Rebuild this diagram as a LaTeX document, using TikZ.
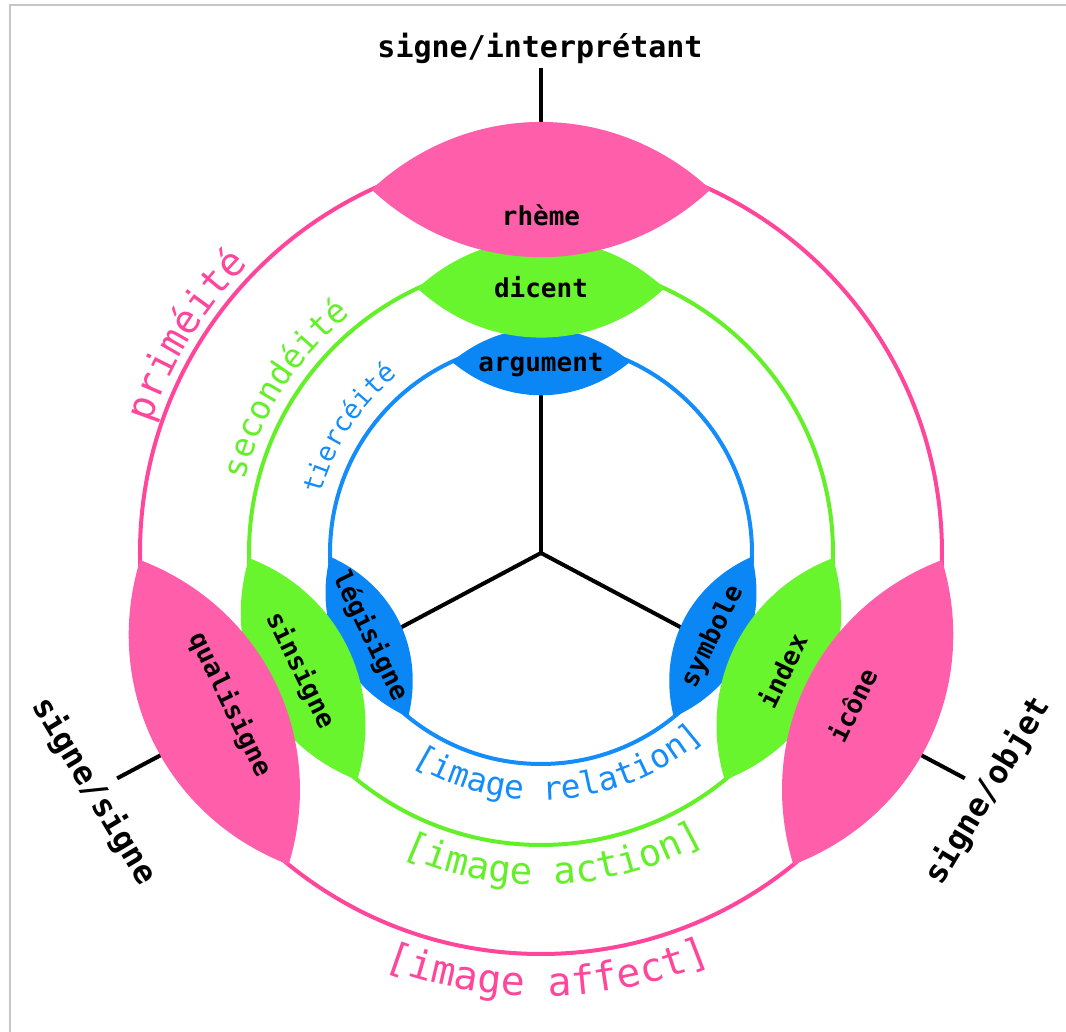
\documentclass[tikz,border=0pt]{standalone}
\usepackage{fontspec}
\usetikzlibrary{decorations.text}
\newfontfamily\monof{DejaVu Sans Mono}
\definecolor{pinkfill}{RGB}{255,94,170}
\definecolor{pinkline}{RGB}{255,70,155}
\definecolor{greenfill}{RGB}{105,245,45}
\definecolor{greenline}{RGB}{100,240,40}
\definecolor{bluefill}{RGB}{10,135,245}
\definecolor{blueline}{RGB}{20,140,250}
\newcommand\fLens{\monof\bfseries\fontsize{13pt}{15pt}\selectfont}
\newcommand\fTop{\monof\bfseries\fontsize{15pt}{17pt}\selectfont}
\newcommand\fSide{\monof\bfseries\fontsize{16pt}{18pt}\selectfont}
\newcommand\fPrim{\monof\fontsize{19.6pt}{22pt}\selectfont}
\newcommand\fSec{\monof\fontsize{16.6pt}{19pt}\selectfont}
\newcommand\fTier{\monof\fontsize{13.4pt}{15pt}\selectfont}
\newcommand\fAff{\monof\fontsize{19.9pt}{22pt}\selectfont}
\newcommand\fAct{\monof\fontsize{18.7pt}{21pt}\selectfont}
\newcommand\fRel{\monof\fontsize{16.4pt}{19pt}\selectfont}
\newcommand\lensshape[4]{% colour, radius, direction, bend
  \fill[#1] ({#3-25}:#2) to[bend left=#4] ({#3+25}:#2) to[bend left=#4] ({#3-25}:#2);}
\tikzset{
  ring/.style={line width=2pt},
  axisline/.style={line width=2pt, draw=black},
  lenslabel/.style={font=\fLens, text=black, inner sep=0pt},
  sidelabel/.style={font=\fSide, text=black, inner sep=0pt},
}
\begin{document}
\begin{tikzpicture}[x=0.5pt,y=0.5pt]
\useasboundingbox (-541,-479) rectangle (525,553);
\draw[gray!45, line width=0.6pt] (-531,-479) -- (-531,548) -- (525,548);

% rings
\draw[ring, pinkline] (0,0) circle[radius=401];
\draw[ring, greenline] (0,0) circle[radius=292];
\draw[ring, blueline] (0,0) circle[radius=211];

% axes
\coordinate (O) at (0,0);
\coordinate (aT) at (90:485);
\coordinate (aL) at (208:480);
\coordinate (aR) at (332:480);
\draw[axisline] (O) -- (aT);
\draw[axisline] (O) -- (aL);
\draw[axisline] (O) -- (aR);

% lenses: blue, then green, then pink on top
\lensshape{bluefill}{211}{90}{40}
\lensshape{bluefill}{211}{206}{40}
\lensshape{bluefill}{211}{334}{40}
\lensshape{greenfill}{292}{90}{43}
\lensshape{greenfill}{292}{206}{43}
\lensshape{greenfill}{292}{334}{43}
\lensshape{pinkfill}{401}{90}{43}
\lensshape{pinkfill}{401}{206}{43}
\lensshape{pinkfill}{401}{334}{43}

% lens labels
\node[lenslabel] (rheme) at (90:338) {rhème};
\node[lenslabel] (dicent) at (90:266) {dicent};
\node[lenslabel] (argument) at (90:188) {argument};
\node[lenslabel, rotate=-64] (quali) at (206:346) {qualisigne};
\node[lenslabel, rotate=-64] (sinsi) at (206:268) {sinsigne};
\node[lenslabel, rotate=-64] (legi) at (206:190) {légisigne};
\node[lenslabel, rotate=64] (icone) at (334:346) {icône};
\node[lenslabel, rotate=64] (index) at (334:268) {index};
\node[lenslabel, rotate=64] (symbole) at (334:191) {symbole};

% axis labels
\node[font=\fTop, text=black, inner sep=0pt, anchor=base] (sigint) at (-1,495) {signe/interprétant};
\node[sidelabel, rotate=-59] (sigsig) at (-447,-238) {signe/signe};
\node[sidelabel, rotate=59] (sigobj) at (447,-238) {signe/objet};

% curved labels, upper left (clockwise paths, text outside)
\path[decorate, decoration={text along path, text align=center, text color=pinkline,
  text={|\fPrim|priméité}}] (178.5:411) arc[start angle=178.5, end angle=118.5, radius=411];
\path[decorate, decoration={text along path, text align=center, text color=greenline,
  text={|\fSec|secondéité}}] (177.4:305) arc[start angle=177.4, end angle=117.4, radius=305];
\path[decorate, decoration={text along path, text align=center, text color=blueline,
  text={|\fTier|tiercéité}}] (177:228) arc[start angle=177, end angle=117, radius=228];

% curved labels, bottom (counter-clockwise paths, text inside)
\path[decorate, decoration={text along path, text align=center, text color=pinkline,
  text={|\fAff|[image affect]}}] (230.9:443) arc[start angle=230.9, end angle=310.9, radius=443];
\path[decorate, decoration={text along path, text align=center, text color=greenline,
  text={|\fAct|[image action]}}] (222.4:332) arc[start angle=222.4, end angle=322.4, radius=332];
\path[decorate, decoration={text along path, text align=center, text color=blueline,
  text={|\fRel|[image relation]}}] (215:247) arc[start angle=215, end angle=335, radius=247];
\end{tikzpicture}
\end{document}
